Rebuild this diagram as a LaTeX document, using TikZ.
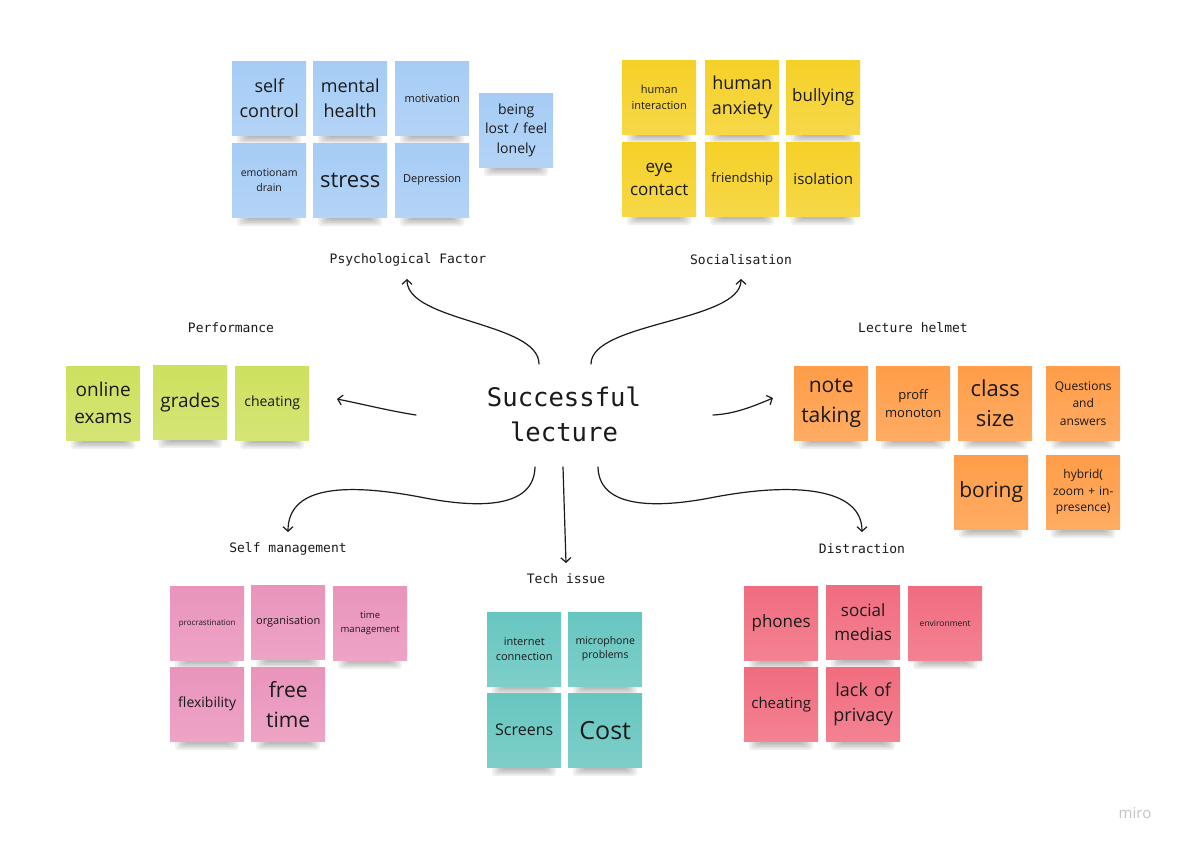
\documentclass[tikz,border=0pt]{standalone}
\usepackage{fontspec}
\setsansfont{Open Sans}
\setmonofont{DejaVu Sans Mono}
\usetikzlibrary{arrows.meta}
\definecolor{nblue}{HTML}{A6CCF5}
\definecolor{nyellow}{HTML}{F5D128}
\definecolor{ngreen}{HTML}{CEE05E}
\definecolor{norange}{HTML}{FF9D48}
\definecolor{npink}{HTML}{EA94BB}
\definecolor{ncyan}{HTML}{67C6C0}
\definecolor{nred}{HTML}{F16C7F}
\definecolor{txt}{HTML}{1A1A1A}
\definecolor{logo}{HTML}{C4C4C4}
\definecolor{shadowc}{HTML}{202020}
\tikzset{
  sticky/.style={anchor=north west, minimum width=74pt, minimum height=74pt,
    inner sep=0pt, text width=70pt, align=center, text=txt,
    top color=#1, bottom color=#1!85!white, draw=none},
  stickyshadow/.style={fill=shadowc, opacity=0.07, rounded corners=3pt},
  grouplabel/.style={font=\ttfamily\fontsize{13}{15}\selectfont, text=txt, inner sep=1pt},
  conn/.style={line width=1.2pt, line cap=round, draw=txt,
    -{Straight Barb[length=4.5pt,width=10pt,line width=1.2pt]}},
}
\newcommand\sn[7]{%
  \foreach \i in {0,...,4} {\fill[stickyshadow] ({#2+5+2.5*\i},{#3+50}) rectangle ({#2+69-2.5*\i},{#3+83-1.6*\i});}
  \node[sticky=#4, font=\sffamily\fontsize{#5}{#6}\selectfont] (#1) at (#2,#3) {#7};}
\begin{document}
\begin{tikzpicture}[x=1pt,y=-1pt]
\useasboundingbox[fill=white] (0,0) rectangle (1181,846);

% Psychological Factor
\sn{selfcontrol}{232}{61}{nblue}{18}{25}{self\\control}
\sn{mental}{313}{61}{nblue}{18}{25}{mental\\health}
\sn{motivation}{395}{61}{nblue}{11}{15}{motivation}
\sn{lost}{479}{93}{nblue}{14}{19.5}{being\\lost / feel\\lonely}
\sn{emotion}{232}{143}{nblue}{10.5}{15}{emotionam\\drain}
\sn{stress}{313}{143}{nblue}{22}{28}{stress}
\sn{depression}{395}{143}{nblue}{11}{15}{Depression}

% Socialisation
\sn{interaction}{622}{60}{nyellow}{11}{16}{human\\interaction}
\sn{anxiety}{705}{60}{nyellow}{18}{25}{human\\anxiety}
\sn{bullying}{786}{60}{nyellow}{17}{23}{bullying}
\sn{eye}{622}{142}{nyellow}{17}{23}{eye\\contact}
\sn{friendship}{705}{142}{nyellow}{13}{17}{friendship}
\sn{isolation}{786}{142}{nyellow}{15}{20}{isolation}

% Performance
\sn{online}{66}{366}{ngreen}{19}{27}{online\\exams}
\sn{grades}{153}{365}{ngreen}{19}{25}{grades}
\sn{cheatA}{235}{366}{ngreen}{14}{19}{cheating}

% Lecture helmet
\sn{note}{794}{366}{norange}{21}{30}{note\\taking}
\sn{proff}{876}{366}{norange}{13}{18}{proff\\monoton}
\sn{classsize}{958}{366}{norange}{22}{30}{class\\size}
\sn{questions}{1046}{366}{norange}{12}{17.5}{Questions\\and\\answers}
\sn{boring}{954}{455}{norange}{21}{28}{boring}
\sn{hybrid}{1046}{455}{norange}{12}{16.5}{hybrid(\\zoom + in-\\presence)}

% Self management
\sn{procr}{170}{586}{npink}{8}{11}{procrastination}
\sn{organ}{251}{585}{npink}{11}{15}{organisation}
\sn{timem}{333}{586}{npink}{9.5}{13.5}{time\\management}
\sn{flex}{170}{667}{npink}{14}{19}{flexibility}
\sn{free}{251}{667}{npink}{21}{30}{free\\time}

% Tech issue
\sn{internet}{487}{612}{ncyan}{11}{14.5}{internet\\connection}
\sn{micro}{568}{612}{ncyan}{10.5}{14}{microphone\\problems}
\sn{screens}{487}{693}{ncyan}{16}{21}{Screens}
\sn{cost}{568}{693}{ncyan}{25}{30}{Cost}

% Distraction
\sn{phones}{744}{586}{nred}{17}{23}{phones}
\sn{social}{826}{585}{nred}{17}{24}{social\\medias}
\sn{environ}{908}{586}{nred}{8.5}{12}{environment}
\sn{cheatB}{744}{667}{nred}{15}{20}{cheating}
\sn{privacy}{826}{667}{nred}{18}{25}{lack of\\privacy}

% group labels
\node[grouplabel] (lpsych) at (408,260) {Psychological Factor};
\node[grouplabel] (lsocial) at (741,260) {Socialisation};
\node[grouplabel] (lperf) at (231,328) {Performance};
\node[grouplabel] (lhelmet) at (913,328) {Lecture helmet};
\node[grouplabel] (lself) at (288,549) {Self management};
\node[grouplabel] (ltech) at (566,579) {Tech issue};
\node[grouplabel] (ldist) at (862,549) {Distraction};

% center
\node[font=\ttfamily\fontsize{25.6}{35}\selectfont, text=txt, align=center] (center) at (564,414) {Successful\\lecture};

% connector coordinates
\coordinate (s1) at (539,364); \coordinate (e1) at (407,279);
\coordinate (s2) at (591,364); \coordinate (e2) at (741,279);
\coordinate (s3) at (416,415); \coordinate (e3) at (337,399);
\coordinate (s4) at (713,415); \coordinate (e4) at (773,398);
\coordinate (s5) at (535,467); \coordinate (m5) at (420,497); \coordinate (e5) at (288,532);
\coordinate (s6) at (563,467); \coordinate (e6) at (566,563);
\coordinate (s7) at (598,467); \coordinate (m7) at (715,497); \coordinate (e7) at (862,532);

\draw[conn] (s1) .. controls (539,322) and (407,322) .. (e1);
\draw[conn] (s2) .. controls (591,322) and (741,322) .. (e2);
\draw[conn] (s3) .. controls (390,411) and (362,404) .. (e3);
\draw[conn] (s4) .. controls (735,414) and (754,406) .. (e4);
\draw[conn] (s5) .. controls (534,515) and (460,505) .. (m5) .. controls (340,482) and (288,488) .. (e5);
\draw[conn] (s6) -- (e6);
\draw[conn] (s7) .. controls (599,515) and (675,505) .. (m7) .. controls (795,482) and (862,488) .. (e7);

% logo
\node[font=\sffamily\fontsize{15}{18}\selectfont, text=logo] (miro) at (1135,813) {miro};
\end{tikzpicture}
\end{document}
